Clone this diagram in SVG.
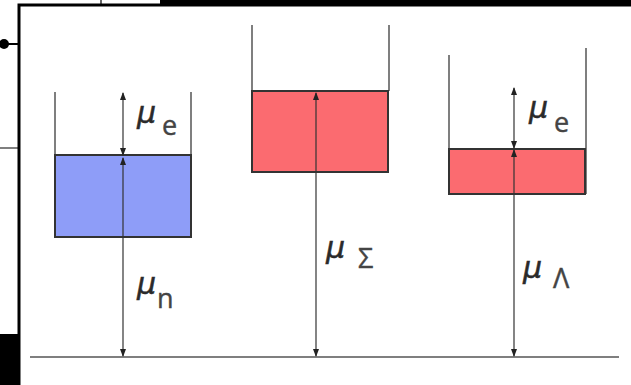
<svg xmlns="http://www.w3.org/2000/svg" width="631" height="385" viewBox="0 0 631 385">
<defs>
<style>
.wall{stroke:#555;stroke-width:1.5;fill:none}
.box{stroke:#333;stroke-width:2}
.arr{stroke:#333;stroke-width:1.2;fill:none}
.mu{font-family:"DejaVu Sans","Liberation Sans",sans-serif;font-size:30px;font-style:italic;fill:#2a2a2a;stroke:#2a2a2a;stroke-width:0.5}
.sub{font-family:"Open Sans","Liberation Sans",sans-serif;font-size:27px;fill:#444;stroke:#444;stroke-width:0.4}
</style>
<marker id="ah" viewBox="0 0 8 8" refX="7" refY="4" markerWidth="8" markerHeight="8" markerUnits="userSpaceOnUse" orient="auto-start-reverse">
<path d="M0,1 L8,4 L0,7 z" fill="#222"/>
</marker>
</defs>
<rect x="0" y="0" width="631" height="385" fill="#fff"/>
<g id="frame">
<rect x="160" y="0" width="471" height="6" fill="#000"/>
<line x1="101" y1="0" x2="101" y2="5" stroke="#000" stroke-width="1.2"/>
<line x1="0" y1="148" x2="18" y2="148" stroke="#555" stroke-width="1.5"/>
<rect x="0" y="334" width="19" height="51" fill="#000"/>
<line x1="3" y1="44" x2="19" y2="44" stroke="#000" stroke-width="2"/>
<circle cx="4" cy="44" r="5" fill="#000"/>
<rect x="19" y="5" width="616" height="384" fill="#fff" stroke="#000" stroke-width="3"/>
</g>
<g id="ground"><line x1="30" y1="357" x2="619" y2="357" stroke="#555" stroke-width="1.5"/></g>
<g id="neutron">
<line class="wall" x1="55" y1="92" x2="55" y2="155"/>
<line class="wall" x1="191" y1="92" x2="191" y2="155"/>
<rect class="box" x="55" y="155" width="136" height="82" fill="#8e9df8"/>
</g>
<g id="sigma">
<line class="wall" x1="252" y1="25" x2="252" y2="91"/>
<line class="wall" x1="389" y1="25" x2="389" y2="91"/>
<rect class="box" x="252" y="91" width="136" height="81" fill="#fb6b70" stroke="#555" stroke-width="1.5"/>
</g>
<g id="lambda">
<line class="wall" x1="449" y1="55" x2="449" y2="149"/>
<line class="wall" x1="586" y1="48" x2="586" y2="194"/>
<rect class="box" x="449" y="149" width="136" height="45" fill="#fb6b70" stroke="#555" stroke-width="1.5"/>
</g>
<g id="connectors">
<line class="arr" x1="123" y1="155" x2="123" y2="93" marker-start="url(#ah)" marker-end="url(#ah)"/>
<line class="arr" x1="123" y1="158" x2="123" y2="356" marker-start="url(#ah)" marker-end="url(#ah)"/>
<line class="arr" x1="316" y1="93" x2="316" y2="356" marker-start="url(#ah)" marker-end="url(#ah)"/>
<line class="arr" x1="514" y1="148" x2="514" y2="88" marker-start="url(#ah)" marker-end="url(#ah)"/>
<line class="arr" x1="514" y1="150" x2="514" y2="356" marker-start="url(#ah)" marker-end="url(#ah)"/>
</g>
<g id="labels">
<text class="mu" x="137" y="123">μ</text><text class="sub" x="162" y="135">e</text>
<text class="mu" x="137" y="294">μ</text><text class="sub" x="157" y="308">n</text>
<text class="mu" x="529" y="118">μ</text><text class="sub" x="554" y="132">e</text>
<text class="mu" x="326" y="258" font-size="27">μ</text><text class="sub" x="358" y="268" font-size="21">Σ</text>
<text class="mu" x="523" y="278" font-size="27">μ</text><text class="sub" x="553" y="288" font-size="26">Λ</text>
</g>
</svg>
